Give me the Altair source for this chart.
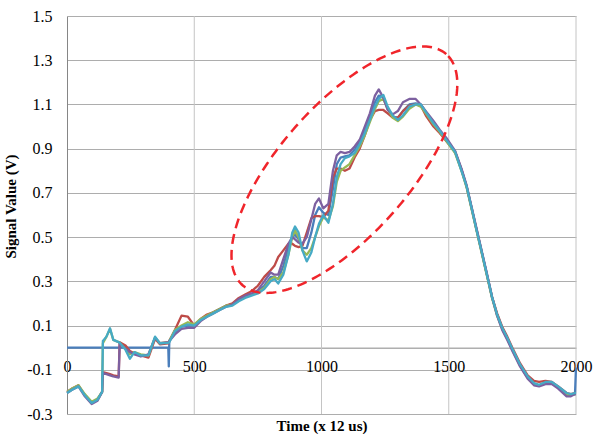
import altair as alt
import numpy as np
import pandas as pd

# ---------------- data ----------------
time_x = [0, 20, 45, 70, 97, 120, 138, 141, 155, 169,
          182, 203, 207, 230, 247, 265, 290, 320, 346, 365,
          398, 400, 402, 424, 450, 475, 500, 525, 550, 575,
          600, 625, 650, 675, 700, 725, 750, 775, 800, 815,
          830, 850, 870, 885, 896, 910, 925, 942, 960, 975,
          990, 1007, 1027, 1045, 1060, 1075, 1092, 1110, 1130, 1150,
          1170, 1190, 1210, 1225, 1243, 1260, 1280, 1300, 1320, 1345,
          1370, 1390, 1410, 1440, 1465, 1490, 1525, 1550, 1570, 1590,
          1610, 1630, 1650, 1670, 1690, 1710, 1730, 1750, 1780, 1810,
          1835, 1855, 1880, 1905, 1930, 1963, 1980, 1996, 2000]

blue = [0, 0, 0, 0, 0, 0, 0, 0, 0, 0,
        0, 0, 0, 0, 0, 0, 0, 0, 0, 0,
        0, -0.085, 0.03, 0.07, 0.095, 0.1, 0.1, 0.125, 0.145, 0.16,
        0.175, 0.19, 0.195, 0.215, 0.23, 0.24, 0.255, 0.28, 0.32, 0.32,
        0.31, 0.37, 0.45, 0.5, 0.51, 0.49, 0.45, 0.45, 0.52, 0.6,
        0.635, 0.61, 0.6, 0.72, 0.83, 0.86, 0.865, 0.87, 0.895, 0.93,
        0.98, 1.045, 1.11, 1.14, 1.135, 1.08, 1.045, 1.04, 1.07, 1.1,
        1.105, 1.1, 1.065, 1.02, 0.98, 0.94, 0.885, 0.805, 0.73, 0.63,
        0.53, 0.43, 0.33, 0.228, 0.15, 0.088, 0.042, -0.008, -0.08, -0.135,
        -0.165, -0.172, -0.16, -0.16, -0.18, -0.21, -0.215, -0.21, -0.09]

red = [-0.2, -0.185, -0.17, -0.215, -0.25, -0.235, -0.2, -0.11, -0.115, -0.12,
       -0.125, -0.13, 0.025, 0.01, -0.015, -0.025, -0.035, -0.045, 0.04, 0.015,
       0.02, 0.025, 0.03, 0.08, 0.145, 0.14, 0.1, 0.13, 0.15, 0.16,
       0.175, 0.19, 0.2, 0.225, 0.24, 0.255, 0.28, 0.32, 0.35, 0.37,
       0.41, 0.44, 0.47, 0.47, 0.46, 0.455, 0.46, 0.52, 0.585, 0.595,
       0.595, 0.59, 0.62, 0.77, 0.81, 0.81, 0.8, 0.81, 0.86, 0.9,
       0.96, 1.03, 1.07, 1.075, 1.075, 1.06, 1.04, 1.04, 1.07, 1.095,
       1.1, 1.095, 1.05, 1.0, 0.97, 0.935, 0.885, 0.805, 0.73, 0.63,
       0.53, 0.43, 0.33, 0.23, 0.155, 0.095, 0.05, 0.0, -0.07, -0.125,
       -0.15, -0.155, -0.15, -0.155, -0.175, -0.205, -0.21, -0.205, -0.205]

green = [-0.2, -0.185, -0.17, -0.21, -0.245, -0.23, -0.2, 0.02, 0.05, 0.085,
         0.035, 0.025, 0.022, -0.005, -0.03, -0.02, -0.03, -0.035, 0.045, 0.02,
         0.025, 0.025, 0.03, 0.08, 0.1, 0.115, 0.105, 0.13, 0.145, 0.16,
         0.175, 0.19, 0.195, 0.215, 0.23, 0.24, 0.25, 0.27, 0.31, 0.32,
         0.31, 0.34, 0.42, 0.5, 0.53, 0.5, 0.44, 0.42, 0.45, 0.5,
         0.55, 0.59, 0.575, 0.64, 0.75, 0.8, 0.815, 0.83, 0.87, 0.91,
         0.96, 1.02, 1.08, 1.115, 1.125, 1.08, 1.04, 1.025, 1.045, 1.08,
         1.1, 1.09, 1.06, 1.01, 0.975, 0.935, 0.88, 0.8, 0.725, 0.625,
         0.525, 0.425, 0.325, 0.225, 0.145, 0.085, 0.04, -0.01, -0.08, -0.135,
         -0.165, -0.17, -0.16, -0.16, -0.18, -0.215, -0.215, -0.21, -0.21]

purple = [-0.205, -0.19, -0.175, -0.22, -0.255, -0.24, -0.2, -0.115, -0.12, -0.125,
          -0.13, -0.135, 0.02, -0.005, -0.02, -0.03, -0.04, -0.03, 0.045, 0.02,
          0.025, 0.025, 0.03, 0.06, 0.085, 0.09, 0.09, 0.12, 0.14, 0.155,
          0.17, 0.185, 0.195, 0.22, 0.235, 0.245, 0.26, 0.3, 0.34, 0.33,
          0.33, 0.4, 0.47, 0.5, 0.49, 0.475, 0.47, 0.5, 0.58, 0.65,
          0.675, 0.63, 0.65, 0.8, 0.87, 0.885, 0.88, 0.885, 0.91, 0.94,
          1.0, 1.06, 1.14, 1.168, 1.13, 1.075, 1.055, 1.07, 1.11, 1.125,
          1.125, 1.1, 1.07, 1.025, 0.985, 0.95, 0.89, 0.81, 0.735, 0.635,
          0.535, 0.435, 0.335, 0.23, 0.145, 0.08, 0.035, -0.015, -0.085, -0.14,
          -0.17, -0.175, -0.165, -0.165, -0.185, -0.22, -0.22, -0.21, -0.21]

cyan = [-0.205, -0.19, -0.175, -0.215, -0.25, -0.235, -0.2, 0.03, 0.05, 0.088,
        0.035, 0.025, 0.022, -0.01, -0.05, -0.02, -0.035, -0.035, 0.05, 0.02,
        0.022, 0.023, 0.025, 0.075, 0.095, 0.105, 0.1, 0.125, 0.14, 0.155,
        0.17, 0.185, 0.19, 0.21, 0.225, 0.235, 0.245, 0.265, 0.3, 0.31,
        0.29, 0.33, 0.42, 0.52, 0.548, 0.52, 0.44, 0.39, 0.43, 0.5,
        0.56, 0.6, 0.565, 0.65, 0.77, 0.83, 0.857, 0.865, 0.88, 0.92,
        0.97, 1.03, 1.09, 1.125, 1.143, 1.09, 1.05, 1.03, 1.05, 1.09,
        1.1, 1.1, 1.065, 1.015, 0.98, 0.94, 0.885, 0.8, 0.73, 0.63,
        0.528, 0.43, 0.33, 0.23, 0.15, 0.09, 0.045, -0.005, -0.075, -0.13,
        -0.16, -0.168, -0.155, -0.155, -0.175, -0.205, -0.21, -0.205, -0.205]

series_names = ["S1", "S2", "S3", "S4", "S5"]
series_values = [blue, red, green, purple, cyan]
series_colors = ["#4A7EBB", "#BE4B48", "#98B954", "#7D60A0", "#46AAC5"]

x_ticks = [0, 500, 1000, 1500, 2000]
x_grid = [500, 1000, 1500, 2000]
y_ticks = [-0.3, -0.1, 0.1, 0.3, 0.5, 0.7, 0.9, 1.1, 1.3, 1.5]

# ---------------- layout ----------------
W, H = 509, 398
X_DOM = [0, 2000]
Y_DOM = [-0.3, 1.5]
FONT = "'Liberation Serif', 'Times New Roman', Times, serif"
sx = W / (X_DOM[1] - X_DOM[0])
sy = H / (Y_DOM[1] - Y_DOM[0])
axis_offset = -(0 - Y_DOM[0]) * sy  # x axis crosses at y = 0

x_enc = alt.X(
    "x:Q",
    scale=alt.Scale(domain=X_DOM, nice=False, zero=False),
    axis=alt.Axis(
        title="Time (x 12 us)", values=x_ticks, format="d", grid=False, ticks=False, tickSize=0,
        offset=axis_offset, domainColor="#868686", domainWidth=1,
        labelFont=FONT, labelFontSize=16, labelColor="black", labelPadding=11,
        labelFlush=False, labelBound=False, labelAlign="center",
        titleFont=FONT, titleFontSize=15, titleFontWeight="bold", titleColor="black",
        titleBaseline="alphabetic", titleY=83, titleX=W / 2 + 0.0,
    ),
)
y_enc = alt.Y(
    "y:Q",
    scale=alt.Scale(domain=Y_DOM, nice=False, zero=False),
    axis=alt.Axis(
        title="Signal Value (V)", values=y_ticks, format=".1f",
        labelExpr="replace(format(datum.value, '.1f'), '\u2212', '-')",
        grid=True, gridColor="#ADADAD", gridWidth=1,
        ticks=False, tickSize=0, domainColor="#868686",
        labelFont=FONT, labelFontSize=16, labelColor="black", labelPadding=15,
        labelFlush=False, labelBound=False,
        titleFont=FONT, titleFontSize=15, titleFontWeight="bold", titleColor="black",
        titleX=-49, titleY=190, titleBaseline="bottom",
    ),
)

layers = []

# vertical gridlines
grid_df = pd.DataFrame({"x": x_grid})
layers.append(
    alt.Chart(grid_df).mark_rule(color="#C4C4C4", strokeWidth=1).encode(
        x=x_enc, y=alt.value(0), y2=alt.value(H)
    )
)

# series lines
for name, vals, col in zip(series_names, series_values, series_colors):
    df = pd.DataFrame({"x": time_x, "y": vals, "series": name})
    layers.append(
        alt.Chart(df).mark_line(color=col, strokeWidth=2.3, strokeJoin="round").encode(
            x=x_enc, y=y_enc
        )
    )

# dashed ellipse annotation
ell_cx, ell_cy = 1090, 0.805     # centre (data units)
ell_a, ell_b = 154, 65           # semi-axes (pixels)
ell_ang = np.deg2rad(48.6)
t = np.linspace(0, 2 * np.pi, 241)
dx = ell_a * np.cos(t) * np.cos(ell_ang) - ell_b * np.sin(t) * np.sin(ell_ang)
dy = ell_a * np.cos(t) * np.sin(ell_ang) + ell_b * np.sin(t) * np.cos(ell_ang)
ell_df = pd.DataFrame({"x": ell_cx + dx / sx, "y": ell_cy + dy / sy, "o": np.arange(len(t))})
layers.append(
    alt.Chart(ell_df).mark_line(color="#F0252B", strokeWidth=2.5, strokeDash=[10, 6]).encode(
        x=x_enc, y=y_enc, order="o:Q"
    )
)

chart = (
    alt.layer(*layers)
    .properties(
        width=W, height=H,
        autosize=alt.AutoSizeParams(type="none"),
        padding={"left": 67, "top": 16, "right": 17, "bottom": 20},
        background="white",
    )
    .configure_view(stroke=None)
)

chart.save("out.html", embed_options={"renderer": "svg", "actions": False})
